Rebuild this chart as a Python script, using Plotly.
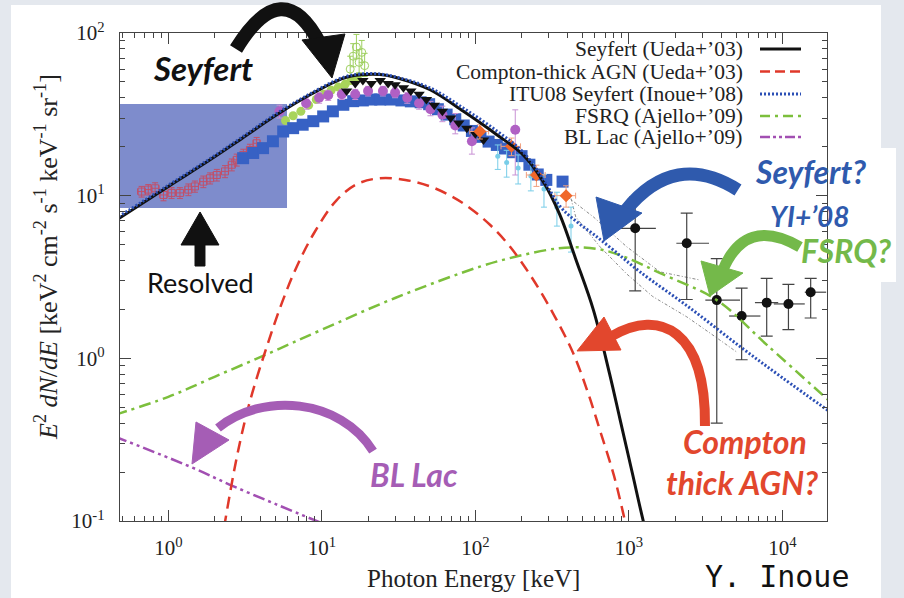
import plotly.graph_objects as go

# ---------------- model spectra: E [keV] vs E^2 dN/dE ----------------
sey_E = [0.45, 1.0, 1.87, 3.0, 5.08, 8.38, 13.9, 18, 23.9, 32, 50.7, 83.6, 138, 205, 277,
         356, 450, 588, 750, 877, 1050, 1242, 1400]
sey_F = [7.0, 11.4, 16.6, 22.4, 31.4, 41.7, 52.8, 55.3, 55.5, 52.5, 44.8, 33, 23.7, 17.8, 12.2,
         7.6, 4.1, 1.98, 0.8, 0.42, 0.2, 0.1, 0.065]

ctk_E = [2.2, 2.8, 3.41, 4.38, 5.5, 6.86, 9, 12.5, 17, 23.9, 35, 50.7, 70, 92, 125, 170,
         239, 330, 435, 540, 649, 800, 920, 980]
ctk_F = [0.07, 0.25, 0.55, 1.18, 2.2, 3.66, 6.0, 9.4, 11.8, 12.8, 12.5, 11.4, 9.9, 8.4, 6.6, 4.8,
         3.03, 1.8, 1.07, 0.62, 0.36, 0.19, 0.111, 0.085]

itu_E = [0.45, 1.0, 1.87, 3.0, 5.08, 8.38, 13.9, 18, 23.9, 32, 50.7, 83.6, 138, 205, 277,
         356, 450, 588, 800, 1183, 2500, 5310, 10000, 21000]
itu_F = [7.2, 11.6, 16.9, 22.8, 32, 42.3, 53.5, 56, 56, 53, 46, 34.5, 25, 18.5, 12.6,
         8.6, 7.0, 5.8, 4.6, 3.4, 2.04, 1.18, 0.76, 0.46]

fsrq_E = [0.45, 1, 2, 4.38, 10, 30, 107, 200, 350, 500, 700, 1000, 1600, 3740, 8000, 21000]
fsrq_F = [0.45, 0.58, 0.77, 1.06, 1.5, 2.35, 3.66, 4.3, 4.75, 4.8, 4.6, 4.1, 3.34, 2.28, 1.2, 0.53]

bll_E = [0.45, 1.45, 2.52, 5, 10]
bll_F = [0.33, 0.212, 0.167, 0.127, 0.097]

# resolved fraction of the background
res_E = [0.4, 5.93]
res_F = [8.4, 36.6]

# ---------------- measured background spectra ----------------
red_E = [0.67, 0.74, 0.82, 0.93, 1.05, 1.19, 1.35, 1.49, 1.69, 1.87, 2.07, 2.34, 2.59, 2.79, 3.08, 3.40, 3.76]
red_F = [10.6, 10.9, 11.1, 10.1, 10.4, 10.4, 10.9, 11.4, 12.2, 12.8, 13.4, 14.1, 15.5, 16.6, 17.8, 19.1, 21.0]
red_dE = [0.04, 0.04, 0.05, 0.05, 0.06, 0.07, 0.07, 0.08, 0.09, 0.1, 0.11, 0.12, 0.13, 0.14, 0.16, 0.17, 0.19]
red_dF = [0.8, 0.8, 0.9, 0.8, 0.8, 0.8, 0.9, 0.9, 1.0, 1.0, 1.1, 1.2, 1.3, 1.4, 1.5, 1.6, 1.8]

blue_E = [3.07, 3.57, 4.14, 4.8, 5.6, 6.5, 7.5, 8.8, 10.2, 11.8, 13.8, 16, 18.5, 21, 24, 28, 33, 38,
          44, 50, 57, 65, 74, 84, 95, 108, 122, 138, 156, 176, 200, 225, 255, 290, 370]
blue_F = [17, 18.3, 19.6, 21.6, 24.8, 26, 27.3, 28.7, 30.7, 33, 36.2, 38.1, 38.5, 39, 39, 39, 38.5, 38,
          37.5, 36.5, 34, 31.5, 29.5, 27, 25, 23, 21.5, 20.5, 19.5, 18.5, 17.5, 15.5, 13.5, 12.5, 12.2]

lime_E = [5.8, 6.5, 7.3, 8.2, 9.2, 10.3, 11.5, 12.8, 14.2, 15.5, 17]
lime_F = [29, 31, 33, 36, 39, 42, 44.5, 46.5, 48.5, 51, 53]

gopen_E = [15.3, 16.0, 16.8, 17.5, 18.2, 19.0]
gopen_F = [60, 72, 82, 66, 76, 63]
gopen_up = [12, 14, 16, 13, 14, 12]
gopen_dn = [8, 10, 12, 9, 10, 9]

mag_E = [5.3, 7.9, 9.6, 11.0, 13.5, 16.5, 20, 25, 30, 36, 43, 51, 61, 74, 95, 182]
mag_F = [33, 37, 40, 41.5, 42, 42, 44, 44, 43, 40, 37, 34, 31.5, 27, 21.6, 25.4]
mag_up = [3, 3, 3, 3, 3, 3, 3, 3, 3, 3, 4, 4, 4, 5, 4.5, 8.3]
mag_dn = [3, 3, 3, 3, 3, 3, 3, 3, 3, 3, 3, 3, 3, 3, 3.6, 12]

tri_E = [14.5, 16.5, 18.5, 21, 24, 27, 30, 34, 38, 43, 48, 54, 61, 69, 78, 88, 100, 113]
tri_F = [44, 49, 51, 49, 51, 49, 48, 46, 44, 42, 39, 36, 33, 30, 28, 26, 24, 22]

org_E = [107, 172, 250, 390]
org_F = [24.8, 20.1, 13.4, 10.0]
org_dE = [15, 25, 35, 60]
org_dF = [2.5, 2.5, 2.0, 1.5]

cyan_E = [140, 160, 190, 230, 280, 340, 420]
cyan_F = [17.5, 16, 14.8, 13.2, 11, 8.5, 6.5]
cyan_dF = [3, 3, 3, 2.5, 2.5, 2, 2]

hi_E = [1100, 2383, 3740, 5430, 7910, 10960, 15300]
hi_F = [6.3, 5.1, 2.28, 1.82, 2.2, 2.16, 2.55]
hi_Elo = [870, 2040, 3150, 4500, 6630, 8800, 14000]
hi_Ehi = [1500, 3330, 5300, 7200, 9400, 14000, 19300]
hi_Flo = [2.6, 2.3, 0.4, 0.98, 1.37, 1.5, 1.77]
hi_Fhi = [9.8, 7.8, 4.1, 2.7, 3.1, 2.85, 3.1]

spi_up_E = [400, 588, 969, 1595, 2910]
spi_up_F = [9.8, 7.4, 4.85, 3.4, 3.03]
spi_lo_E = [420, 451, 649, 969, 1430, 2383, 3380, 5000]
spi_lo_F = [9.6, 7.4, 4.85, 3.3, 2.4, 1.8, 1.43, 1.1]

# ---------------- styles ----------------
C_BLACK = "#111111"
C_RED = "#e0382a"
C_BLUE = "#2b4fb5"
C_GREEN = "#7cbf3c"
C_PURPLE = "#a24fb2"

SERIF = "Liberation Serif"
SANS = "Lato"

# plot frame in page pixels
L, R, T, B = 120, 827, 33, 521


def P(x, y):
    """page pixel -> paper coordinates"""
    return (x - L) / (R - L), (B - y) / (B - T)


def pt(x, y):
    return "%.4f,%.4f" % P(x, y)


fig = go.Figure()

# shaded "resolved" band
fig.add_trace(go.Scatter(
    x=[res_E[0], res_E[1], res_E[1], res_E[0], res_E[0]],
    y=[res_F[0], res_F[0], res_F[1], res_F[1], res_F[0]],
    fill="toself", fillcolor="#7e8ccc", mode="none", hoverinfo="skip"))

# SPI-like band edges
for ex, fy in ((spi_up_E, spi_up_F), (spi_lo_E, spi_lo_F)):
    fig.add_trace(go.Scatter(x=ex, y=fy, mode="lines",
                             line=dict(color="#8a8a8a", width=1, dash="3px,2px,1px,2px")))


def errbar(arr, arrminus=None, color="#777"):
    d = dict(type="data", array=arr, color=color, thickness=1, width=3, visible=True)
    if arrminus is not None:
        d.update(symmetric=False, arrayminus=arrminus)
    return d


fig.add_trace(go.Scatter(
    x=red_E, y=red_F, mode="markers",
    marker=dict(symbol="square-open", size=7, color="#c0506a", line=dict(width=1)),
    error_x=errbar(red_dE, color="#c0506a"), error_y=errbar(red_dF, color="#c0506a")))

fig.add_trace(go.Scatter(
    x=gopen_E, y=gopen_F, mode="markers",
    marker=dict(symbol="circle-open", size=8, color="#9fd060", line=dict(width=1)),
    error_y=errbar(gopen_up, gopen_dn, color="#9fd060")))

fig.add_trace(go.Scatter(
    x=lime_E, y=lime_F, mode="markers",
    marker=dict(symbol="circle", size=9, color="#a8d45a")))

fig.add_trace(go.Scatter(
    x=blue_E, y=blue_F, mode="markers",
    marker=dict(symbol="square", size=12, color="#3761c4")))

fig.add_trace(go.Scatter(
    x=mag_E, y=mag_F, mode="markers",
    marker=dict(symbol="circle", size=10, color="#b060c4"),
    error_y=errbar(mag_up, mag_dn, color="#c890d4")))

fig.add_trace(go.Scatter(
    x=cyan_E, y=cyan_F, mode="markers",
    marker=dict(symbol="circle", size=5, color="#78cde8"),
    error_y=errbar(cyan_dF, color="#78cde8")))

fig.add_trace(go.Scatter(
    x=tri_E, y=tri_F, mode="markers",
    marker=dict(symbol="triangle-down", size=10, color="#111")))

fig.add_trace(go.Scatter(
    x=org_E, y=org_F, mode="markers",
    marker=dict(symbol="diamond", size=10, color="#f0672a"),
    error_x=errbar(org_dE, color="#f0a080"), error_y=errbar(org_dF, color="#f0a080")))

fig.add_trace(go.Scatter(
    x=hi_E, y=hi_F, mode="markers",
    marker=dict(symbol="circle", size=10, color="#111"),
    error_x=dict(type="data", symmetric=False, color="#444", thickness=1.2, width=0,
                 array=[h - e for h, e in zip(hi_Ehi, hi_E)],
                 arrayminus=[e - l for l, e in zip(hi_Elo, hi_E)]),
    error_y=dict(type="data", symmetric=False, color="#444", thickness=1.2, width=6,
                 array=[h - f for h, f in zip(hi_Fhi, hi_F)],
                 arrayminus=[f - l for l, f in zip(hi_Flo, hi_F)])))

# model curves
fig.add_trace(go.Scatter(x=bll_E, y=bll_F, mode="lines", line_shape="spline",
                         line=dict(color=C_PURPLE, width=2.5, dash="12px,4px,3px,4px,3px,4px")))
fig.add_trace(go.Scatter(x=fsrq_E, y=fsrq_F, mode="lines", line_shape="spline",
                         line=dict(color=C_GREEN, width=2.5, dash="12px,5px,3px,5px")))
fig.add_trace(go.Scatter(x=ctk_E, y=ctk_F, mode="lines", line_shape="spline",
                         line=dict(color=C_RED, width=2.5, dash="12px,7px")))
fig.add_trace(go.Scatter(x=sey_E, y=sey_F, mode="lines", line_shape="spline",
                         line=dict(color=C_BLACK, width=3)))
fig.add_trace(go.Scatter(x=itu_E, y=itu_F, mode="lines", line_shape="spline",
                         line=dict(color=C_BLUE, width=3, dash="2px,2px")))

# ---------------- legend (text right, sample line left of frame edge) ----------------
leg_text = ["Seyfert (Ueda+\u201903)", "Compton-thick AGN (Ueda+\u201903)",
            "ITU08 Seyfert (Inoue+\u201908)", "FSRQ (Ajello+\u201909)", "BL Lac (Ajello+\u201909)"]
leg_style = [(C_BLACK, "solid", 3), (C_RED, "10px,5px", 2.5), (C_BLUE, "2px,2px", 3),
             (C_GREEN, "10px,5px,3px,5px", 2.5), (C_PURPLE, "10px,3px,3px,3px,3px,3px", 2.5)]
leg_y = [49, 71.5, 94, 116, 137]

shapes = []
annotations = []
for txt, (col, dash, w), yy in zip(leg_text, leg_style, leg_y):
    ax, ay = P(745, yy)
    annotations.append(dict(x=ax, y=ay, xref="paper", yref="paper", text=txt, showarrow=False,
                            xanchor="right", yanchor="middle",
                            font=dict(family=SERIF, size=21.5, color="#222")))
    x0, y0 = P(760, yy)
    x1, _ = P(801, yy)
    shapes.append(dict(type="line", xref="paper", yref="paper", x0=x0, x1=x1, y0=y0, y1=y0,
                       line=dict(color=col, width=w, dash=dash)))

# ---------------- page border ----------------
GREY = "#e4e8ee"
for (xa, ya, xb, yb) in [(0, 0, 11, 598), (881, 0, 904, 598), (0, 0, 904, 5)]:
    p0 = P(xa, ya)
    p1 = P(xb, yb)
    shapes.append(dict(type="rect", xref="paper", yref="paper", x0=p0[0], x1=p1[0],
                       y0=p0[1], y1=p1[1], fillcolor=GREY, line=dict(width=0), layer="below"))
p0, p1 = P(881, 148), P(896, 282)
shapes.append(dict(type="rect", xref="paper", yref="paper", x0=p0[0], x1=p1[0],
                   y0=p0[1], y1=p1[1], fillcolor="white", line=dict(width=0), layer="below"))


# ---------------- call-out arrows ----------------
def stroke(d, col, w):
    shapes.append(dict(type="path", xref="paper", yref="paper", path=d,
                       line=dict(color=col, width=w), fillcolor="rgba(0,0,0,0)"))


def head(pts, col):
    d = "M" + pt(*pts[0]) + "".join(" L" + pt(*q) for q in pts[1:]) + " Z"
    shapes.append(dict(type="path", xref="paper", yref="paper", path=d,
                       line=dict(color=col, width=1), fillcolor=col))


stroke("M" + pt(236, 49) + " Q" + pt(283, -28) + " " + pt(320, 44), C_BLACK, 14)
head([(302, 40), (345, 34), (332, 78)], C_BLACK)

stroke("M" + pt(738, 190) + " Q" + pt(675, 150) + " " + pt(626, 210), "#2f5aad", 13)
head([(596, 197), (642, 213), (604, 241)], "#2f5aad")

stroke("M" + pt(800, 247) + " Q" + pt(745, 215) + " " + pt(722, 272), "#74b94a", 11)
head([(701, 261), (743, 273), (710, 296)], "#74b94a")

stroke("M" + pt(705, 426) + " C" + pt(706, 330) + " " + pt(660, 308) + " " + pt(612, 336),
       "#e2472d", 10)
head([(604, 317), (621, 350), (577, 351)], "#e2472d")

stroke("M" + pt(373, 451) + " C" + pt(340, 398) + " " + pt(262, 392) + " " + pt(218, 428),
       "#a55db5", 9)
head([(196, 422), (229, 440), (192, 464)], "#a55db5")

head([(200, 212), (181, 245), (195, 245), (195, 266), (205, 266), (205, 245), (219, 245)], C_BLACK)


# ---------------- call-out labels ----------------
def label(x, y, txt, col, size, family=SANS, bold=True, italic=True):
    ax, ay = P(x, y)
    annotations.append(dict(x=ax, y=ay, xref="paper", yref="paper", text=txt, showarrow=False,
                            xanchor="center", yanchor="middle",
                            font=dict(family=family, size=size, color=col,
                                      weight="bold" if bold else "normal",
                                      style="italic" if italic else "normal")))


label(203, 68, "Seyfert", C_BLACK, 33)
label(200, 282, "Resolved", C_BLACK, 27, bold=False, italic=False)
label(810, 171, "Seyfert?", "#2f5aad", 32)
label(810, 216, "YI+\u201908", "#2f5aad", 28)
label(846, 250, "FSRQ?", "#74b94a", 32)
label(745, 441, "Compton", "#e2472d", 32)
label(742, 482, "thick AGN?", "#e2472d", 32)
label(414, 474, "BL Lac", "#a55db5", 32)
label(777, 576, "Y. Inoue", "#111", 30, family="DejaVu Sans Mono", bold=False, italic=False)

# axis titles
ax_, ay_ = P(473, 578)
annotations.append(dict(x=ax_, y=ay_, xref="paper", yref="paper", text="Photon Energy [keV]",
                        showarrow=False, xanchor="center", yanchor="middle",
                        font=dict(family=SERIF, size=25, color="#222")))
ax_, ay_ = P(46, 257)
annotations.append(dict(x=ax_, y=ay_, xref="paper", yref="paper", textangle=-90,
                        text="<i>E</i><sup>2</sup> <i>dN</i>/<i>dE</i> [keV<sup>2</sup> cm<sup>-2</sup> "
                             "s<sup>-1</sup> keV<sup>-1</sup> sr<sup>-1</sup>]",
                        showarrow=False, xanchor="center", yanchor="middle",
                        font=dict(family=SERIF, size=26, color="#222")))

x_major = [1, 10, 100, 1000, 10000]
x_labels = ["10<sup>0</sup>", "10<sup>1</sup>", "10<sup>2</sup>", "10<sup>3</sup>", "10<sup>4</sup>"]
y_major = [0.1, 1, 10, 100]
y_labels = ["10<sup>-1</sup>", "10<sup>0</sup>", "10<sup>1</sup>", "10<sup>2</sup>"]
x_minor = [k * 10 ** n for n in range(-1, 5) for k in range(2, 10)]
y_minor = [k * 10 ** n for n in range(-1, 2) for k in range(2, 10)]

axis_common = dict(type="log", ticks="inside", ticklen=11, tickwidth=1.2, tickcolor="#444",
                   showline=True, linecolor="#444", linewidth=1.4, mirror="allticks",
                   showgrid=False, zeroline=False,
                   tickfont=dict(family=SERIF, size=21, color="#222"))

fig.update_layout(
    width=904, height=598,
    margin=dict(l=L, r=904 - R, t=T, b=598 - B),
    paper_bgcolor="white", plot_bgcolor="white",
    showlegend=False,
    font=dict(family=SERIF, color="#222"),
    xaxis=dict(range=[-0.315, 4.291], tickmode="array", tickvals=x_major, ticktext=x_labels,
               ticklabelstandoff=8,
               minor=dict(tickmode="array", tickvals=x_minor, ticks="inside", ticklen=5,
                          tickcolor="#444", showgrid=False),
               **axis_common),
    yaxis=dict(range=[-1, 2], tickmode="array", tickvals=y_major, ticktext=y_labels,
               ticklabelstandoff=10,
               minor=dict(tickmode="array", tickvals=y_minor, ticks="inside", ticklen=5,
                          tickcolor="#444", showgrid=False),
               **axis_common),
    shapes=shapes,
    annotations=annotations,
)

fig.write_html("out.html")
